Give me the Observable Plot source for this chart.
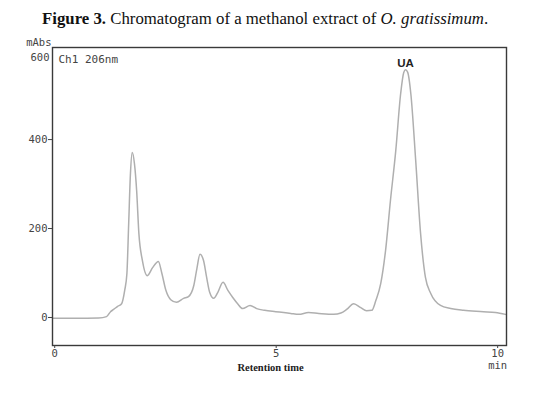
<!DOCTYPE html>
<html>
<head>
<meta charset="utf-8">
<script src="https://cdn.jsdelivr.net/npm/d3@7"></script>
<script src="https://cdn.jsdelivr.net/npm/@observablehq/plot@0.6"></script>
<style>
  html, body { margin: 0; padding: 0; background: #fff; }
  #title { position: relative; height: 23px; padding-top: 7px; line-height: 23px;
           font-family: "Liberation Serif", "Times New Roman", serif; font-size: 16.8px; color: #111; white-space: nowrap; }
  #title span.t { position: absolute; left: 42px; }
  #chart svg { display: block; }
</style>
</head>
<body>
<div id="title"><span class="t"><b>Figure 3.</b> Chromatogram of a methanol extract of <i>O. gratissimum</i>.</span></div>
<div id="chart"></div>
<script>
// Retention time (min)
const time = [-0.05, 0.47, 0.99, 1.17, 1.26, 1.33, 1.42, 1.51, 1.58, 1.63, 1.67, 1.71, 1.75, 1.80, 1.85, 1.90, 1.98, 2.09, 2.21, 2.34, 2.42, 2.51, 2.62, 2.75, 2.91, 3.02, 3.14, 3.21, 3.28, 3.36, 3.43, 3.50, 3.59, 3.68, 3.80, 3.91, 4.02, 4.13, 4.24, 4.41, 4.56, 4.74, 4.99, 5.17, 5.33, 5.51, 5.73, 5.96, 6.30, 6.46, 6.59, 6.75, 6.91, 7.04, 7.16, 7.25, 7.36, 7.47, 7.58, 7.70, 7.81, 7.88, 7.92, 7.97, 8.04, 8.15, 8.26, 8.37, 8.49, 8.71, 8.94, 9.23, 9.68, 9.95, 10.18];
// Absorbance (mAbs)
const absorbance = [-2, -2, -1, 2, 13, 18, 25, 31, 61, 99, 211, 324, 371, 346, 285, 189, 128, 94, 112, 126, 99, 61, 40, 34, 43, 47, 72, 110, 142, 128, 90, 56, 43, 56, 79, 61, 45, 31, 20, 27, 20, 16, 13, 11, 9, 7, 11, 9, 7, 10, 18, 31, 22, 15, 16, 38, 76, 151, 263, 375, 503, 551, 557, 551, 503, 353, 189, 90, 54, 27, 20, 16, 13, 11, 7];
const xTicks = [0, 5, 10];
const yTicks = [0, 200, 400];
const yTopTick = [600];
const peakLabels = [{t: 7.92, v: 557, label: "UA"}];
const xUnit = [{t: 10, label: "min"}];

const data = time.map((t, i) => ({t, v: absorbance[i]}));
const mono = "DejaVu Sans Mono, monospace";

const chart = Plot.plot({
  width: 553,
  height: 364,
  marginLeft: 52,
  marginRight: 47,
  marginTop: 17,
  marginBottom: 49,
  style: {fontFamily: mono, fontSize: "10.5px", color: "#444", background: "#fff"},
  x: {domain: [-0.05, 10.2]},
  y: {domain: [-63, 607]},
  marks: [
    Plot.line(data, {x: "t", y: "v", stroke: "#afafaf", strokeWidth: 1.5, curve: "monotone-x"}),
    Plot.frame({stroke: "#3a3a3a", strokeWidth: 1.4}),
    Plot.axisY({ticks: yTicks, tickSize: 4, tickPadding: 1, label: null, fontFamily: mono, fontSize: 10.5}),
    Plot.text(yTopTick, {y: d => d, text: d => String(d), frameAnchor: "left", textAnchor: "end", dx: -3, dy: 7, fontFamily: mono, fontSize: 10.5, fill: "#444"}),
    Plot.axisX({ticks: xTicks, tickSize: 3, tickPadding: 1, label: null, fontFamily: mono, fontSize: 10.5}),
    Plot.text(xUnit, {x: "t", text: "label", frameAnchor: "bottom", dy: 23, fontFamily: mono, fontSize: 10.5, fill: "#444"}),
    Plot.text(["mAbs"], {text: d => d, frameAnchor: "top-left", textAnchor: "end", dx: -1, dy: -9, fontFamily: mono, fontSize: 10.5, fill: "#444"}),
    Plot.text(["Ch1 206nm"], {text: d => d, frameAnchor: "top-left", textAnchor: "start", dx: 6, dy: 8, fontFamily: mono, fontSize: 11, fill: "#444"}),
    Plot.text(["Retention time"], {text: d => d, frameAnchor: "bottom", dx: -9, dy: 25, fontFamily: "Liberation Serif, serif", fontWeight: "bold", fontSize: 10.5, fill: "#222"}),
    Plot.text(peakLabels, {x: "t", y: "v", text: "label", lineAnchor: "bottom", dy: -3, fontFamily: "Liberation Sans, Arial, sans-serif", fontWeight: "bold", fontSize: 11.5, fill: "#222"})
  ]
});
document.getElementById("chart").appendChild(chart);
</script>
</body>
</html>
